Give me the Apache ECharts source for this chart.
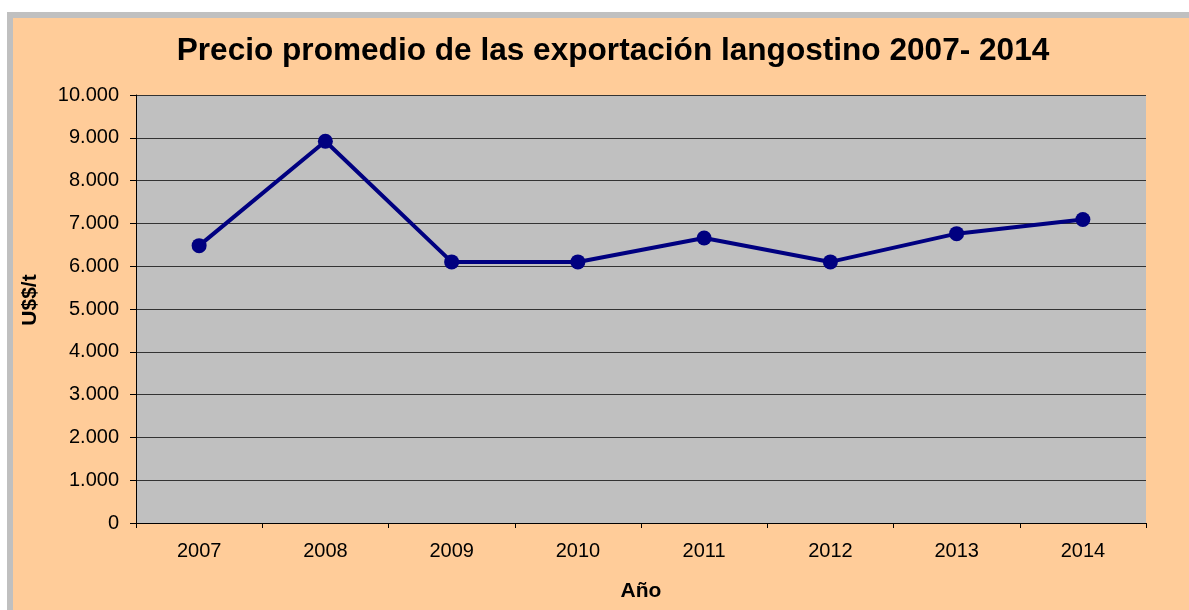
<!DOCTYPE html>
<html>
<head>
<meta charset="utf-8">
<script src="https://cdn.jsdelivr.net/npm/echarts@6/dist/echarts.min.js"></script>
<style>
  html, body { margin: 0; padding: 0; background: #fff; }
  .marco {
    position: absolute; left: 7px; top: 12px; width: 1200px; height: 620px;
    background: #FFCC99; border-left: 6px solid #C0C0C0; border-top: 6px solid #C0C0C0;
  }
  #main { position: absolute; left: 0; top: 0; width: 1189px; height: 610px; }
</style>
</head>
<body>
<div class="marco"></div>
<div id="main"></div>
<script>
  // datos
  var anios = ['2007', '2008', '2009', '2010', '2011', '2012', '2013', '2014'];
  var precios = [6480, 8920, 6100, 6100, 6660, 6100, 6760, 7090];

  var myChart = echarts.init(document.getElementById('main'));

  function miles(v) {
    return String(v).replace(/\B(?=(\d{3})+(?!\d))/g, '.');
  }

  myChart.setOption({
    animation: false,
    title: {
      text: 'Precio promedio de las exportación langostino 2007- 2014',
      left: 608,
      top: 30,
      textAlign: 'center',
      textStyle: { fontFamily: 'Liberation Sans', fontSize: 31.6, fontWeight: 'bold', color: '#000' }
    },
    grid: {
      left: 136, top: 95, right: 43, bottom: 87,
      show: true, backgroundColor: '#C0C0C0', borderWidth: 0
    },
    xAxis: {
      type: 'category',
      data: anios,
      boundaryGap: true,
      name: 'Año',
      nameLocation: 'middle',
      nameGap: 58,
      nameTextStyle: { fontFamily: 'Liberation Sans', fontSize: 21, fontWeight: 'bold', color: '#000' },
      axisLine: { lineStyle: { color: '#000', width: 1 } },
      axisTick: { show: true, length: 5, lineStyle: { color: '#000' } },
      axisLabel: { margin: 18, fontFamily: 'Liberation Sans', fontSize: 20, color: '#000' },
      splitLine: { show: false }
    },
    yAxis: {
      type: 'value',
      min: 0, max: 10000, interval: 1000,
      name: 'U$$/t',
      nameLocation: 'middle',
      nameGap: 95,
      nameTextStyle: {
        fontFamily: 'Liberation Sans', fontSize: 21, fontWeight: 'bold', color: '#000',
        padding: [0, 0, 0, 18]
      },
      axisLine: { show: true, lineStyle: { color: '#000', width: 1 } },
      axisTick: { show: true, length: 6, lineStyle: { color: '#000' } },
      axisLabel: {
        margin: 17, fontFamily: 'Liberation Sans', fontSize: 20, color: '#000',
        formatter: function (v) { return miles(v); }
      },
      splitLine: { show: true, lineStyle: { color: '#333', width: 1 } }
    },
    series: [{
      type: 'line',
      data: precios,
      symbol: 'circle',
      symbolSize: 15,
      lineStyle: { color: '#000080', width: 4 },
      itemStyle: { color: '#000080' }
    }]
  });
</script>
</body>
</html>
